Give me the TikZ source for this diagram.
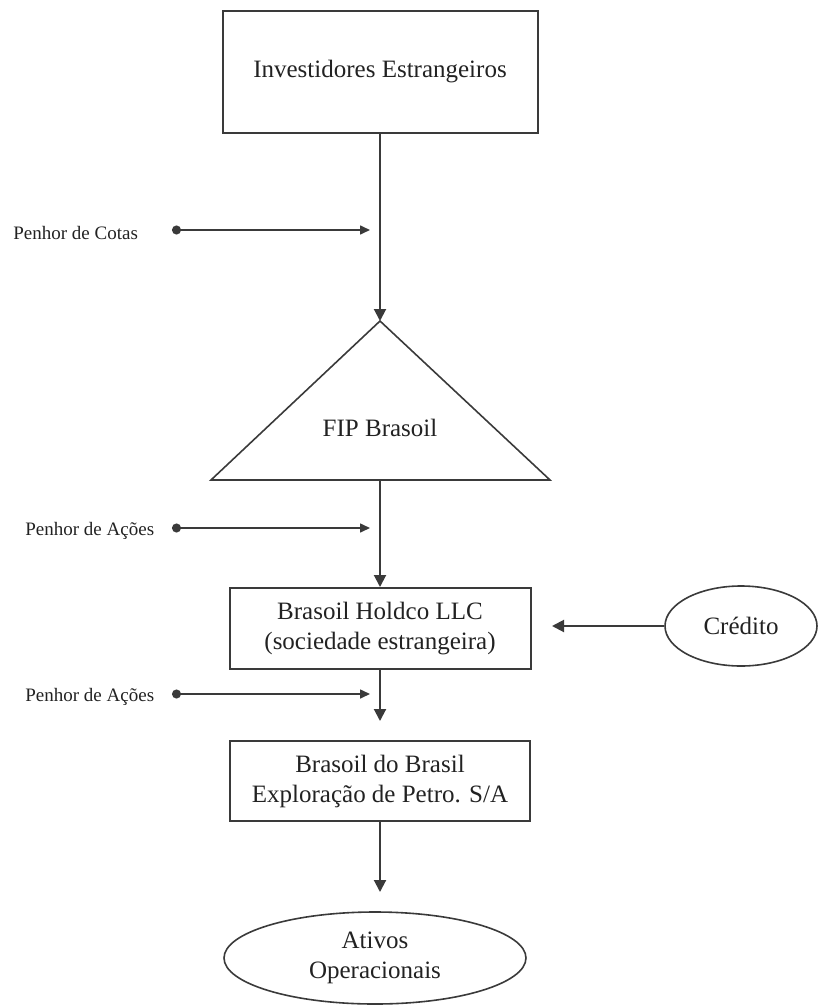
\documentclass[tikz,border=0pt]{standalone}
\usepackage{fontspec}
\setmainfont{Liberation Serif}
\usetikzlibrary{arrows.meta,positioning,shapes.geometric}
\definecolor{linec}{HTML}{3A3A3A}
\definecolor{textc}{HTML}{222222}
\tikzset{
  box/.style={draw=linec,line width=1pt,align=center,inner sep=0pt,font=\fontsize{12.5}{15}\selectfont,text=textc},
  elli/.style={ellipse,draw=linec,line width=0.8pt,align=center,inner sep=0pt,font=\fontsize{12.5}{15}\selectfont,text=textc},
  ar/.style={-{Triangle[length=6pt,width=6pt]},line width=1pt,linec},
  pen/.style={{Circle[length=4.5pt]}-{Triangle[length=5pt,width=4.5pt]},line width=0.8pt,linec},
  lbl/.style={font=\fontsize{9.5}{11}\selectfont,text=textc,anchor=west,inner sep=0pt}
}

\begin{document}
\begin{tikzpicture}[x=0.5pt,y=-0.5pt]
\useasboundingbox (0,0) rectangle (818,1006);
\node[box,minimum width=157.5pt,minimum height=61pt] (inv) at (380,72) {Investidores Estrangeiros};
% fundo
\coordinate (apex) at (380,321);
\coordinate (bl) at (211,480);
\coordinate (br) at (550,480);
\coordinate (fipb) at (380,480);
\draw[linec,line width=0.8pt] (apex) -- (br) -- (bl) -- cycle;
\node[box,draw=none] (fip) at (380,428) {FIP Brasoil};
% sociedades
\node[box,minimum width=150.5pt,minimum height=40.5pt] (hold) at (380,628.5) {Brasoil Holdco LLC\\(sociedade estrangeira)};
\node[box,minimum width=150pt,minimum height=40pt] (bra) at (380,781) {Brasoil do Brasil\\Exploração de Petro. S/A};
\node[elli,minimum width=151pt,minimum height=46pt] (ativ) at (375,958) {Ativos\\Operacionais};
\node[elli,minimum width=76pt,minimum height=40pt] (cred) at (741,626) {Crédito};
\coordinate[above=9.5pt of bra.north] (braT);
\coordinate (ativT) at (380,892);
\coordinate (holdR) at (552,626);
\draw[ar] (inv.south) -- (apex);
\draw[ar] (fipb) -- (hold.north);
\draw[ar] (hold.south) -- (braT);
\draw[ar] (bra.south) -- (ativT);
\draw[ar] (cred.west) -- (holdR);
% penhores
\foreach \yy/\xx/\txt [count=\k] in {230/13/Penhor de Cotas,528/25/Penhor de Ações,694/25/Penhor de Ações}{
  \node[lbl] (pen\k) at (\xx,\yy+3) {\txt};
  \coordinate (pd\k) at (172,\yy);
  \coordinate (pt\k) at (370,\yy);
  \draw[pen] (pd\k) -- (pt\k);}
\end{tikzpicture}
\end{document}
